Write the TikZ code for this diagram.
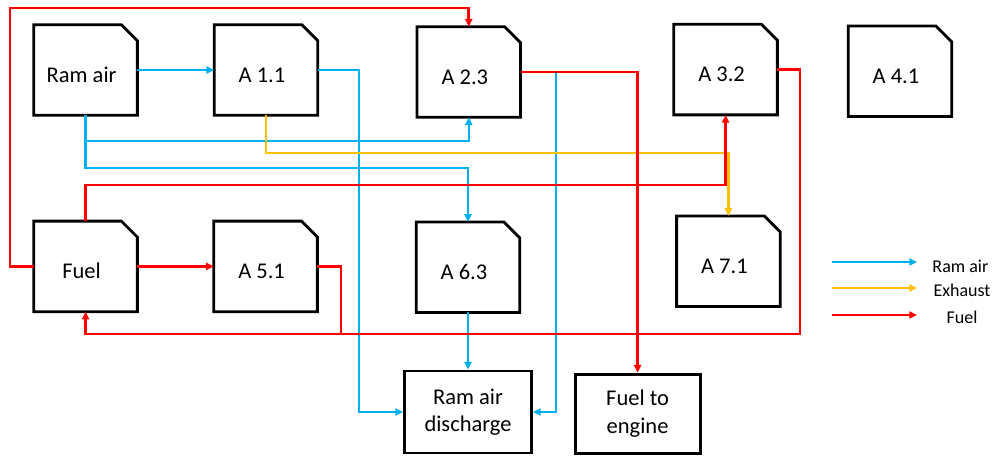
\documentclass[tikz,border=0pt]{standalone}
\usepackage{fontspec}
\setmainfont{Carlito}
\usepackage{xcolor}
\usepackage{tikz}
\usetikzlibrary{positioning,arrows.meta}

\definecolor{airblue}{RGB}{0,176,240}
\definecolor{exhorange}{RGB}{255,192,0}
\definecolor{fuelred}{RGB}{255,0,0}

\begin{document}
\begin{tikzpicture}[
  >={Triangle[length=5.5pt, width=5pt]},
  blk/.style={inner sep=0pt, minimum width=2.575cm, minimum height=2.25cm,
    font=\fontsize{16}{19.5}\selectfont,
    text height=0.65cm, text depth=0.04cm, execute at end node={\hspace*{0.2cm}},
    append after command={\pgfextra{\let\blknode\tikzlastnode
      \draw[line width=2pt] (\blknode.south west) -- (\blknode.north west)
        -- ([xshift=-0.4cm]\blknode.north east) -- ([yshift=-0.4cm]\blknode.north east)
        -- (\blknode.south east) -- cycle;}}},
  sink/.style={draw, line width=2pt, align=center, font=\fontsize{16}{19.5}\selectfont},
  airln/.style={->, line width=1.8pt, color=airblue},
  exhln/.style={->, line width=1.8pt, color=exhorange},
  fuelln/.style={->, line width=2pt, color=fuelred},
  lg/.style={font=\fontsize{12.8}{15}\selectfont},
]
\useasboundingbox (0,0) rectangle (24.825,-11.4);

\node[blk] (ram) at (2.14,-1.75) {Ram air};
\node[blk] (a11) at (6.65,-1.75) {A 1.1};
\node[blk] (a23) at (11.72,-1.8) {A 2.3};
\node[blk] (a32) at (18.14,-1.74) {A 3.2};
\node[blk] (a41) at (22.5,-1.78) {A 4.1};

\node[blk] (fuel) at (2.14,-6.66) {Fuel};
\node[blk] (a51) at (6.64,-6.66) {A 5.1};
\node[blk] (a63) at (11.7,-6.68) {A 6.3};
\node[blk] (a71) at (18.21,-6.53) {A 7.1};

\node[sink, minimum width=3.175cm, minimum height=2.05cm] (rad) at (11.7,-10.3) {Ram air\\discharge};
\node[sink, minimum width=3.125cm, minimum height=1.975cm] (eng) at (15.94,-10.34) {Fuel to\\engine};

\coordinate (rsplit) at (2.14,-3.525);
\draw[airln] (ram.east) -- (a11.west);
\draw[airln] (a11.east) -| ([xshift=-1.1cm]rad.west) -- (rad.west);
\draw[airln] (ram.south) -- (rsplit) -| (a23.south);
\draw[airln] (rsplit) -- (2.14,-4.2) -| (a63.north);
\draw[airln] (a23.east) -| ([xshift=0.575cm]rad.east) -- (rad.east);
\draw[airln] (a63.south) -- (rad.north);

\draw[exhln] (a11.south) -- (6.65,-3.825) -| (a71.north);

\coordinate (fret) at (8.525,-8.35);
\draw[fuelln] (fuel.west) -| (0.25,-0.2) -| (a23.north);
\draw[fuelln] (fuel.east) -- (a51.west);
\draw[fuelln] (fuel.north) -- (2.14,-4.625) -| (a32.south);
\draw[fuelln] (a32.east) -| (20,-8.35) -| (fuel.south);
\draw[fuelln, -] (a51.east) -| (fret);
\draw[fuelln] (a23.east) -| (eng.north);

\coordinate (lgair) at (20.8,-6.55);
\coordinate (lgexh) at (20.8,-7.2);
\coordinate (lgfuel) at (20.8,-7.875);
\draw[airln] (lgair) -- ++(2.125,0);
\draw[exhln] (lgexh) -- ++(2.125,0);
\draw[fuelln] (lgfuel) -- ++(2.125,0);
\node[lg] (lgairt) at (24.01,-6.65) {Ram air};
\node[lg] (lgexht) at (24.05,-7.25) {Exhaust};
\node[lg] (lgfuelt) at (24.05,-7.93) {Fuel};
\end{tikzpicture}
\end{document}
